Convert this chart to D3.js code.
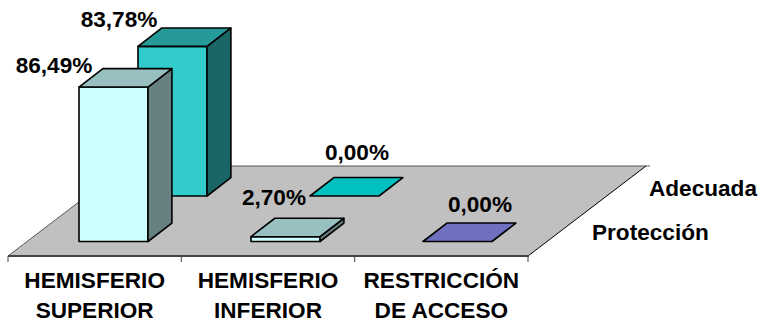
<!DOCTYPE html>
<html><head><meta charset="utf-8">
<script src="https://cdn.jsdelivr.net/npm/d3@7"></script>
<style>html,body{margin:0;padding:0;background:#fff}svg{display:block}text{font-family:"Liberation Sans",Arial,sans-serif;font-weight:bold;fill:#000}</style>
</head><body><svg id="c" width="761" height="322"></svg>
<script>
const categories = [["HEMISFERIO","SUPERIOR"],["HEMISFERIO","INFERIOR"],["RESTRICCIÓN","DE ACCESO"]];
const catKeys = ["sup","inf","res"];
const seriesNames = ["Protección","Adecuada"];
const proteccion = [86.49, 2.70, 0.00];
const adecuada = [83.78, 0.00, null];
const labelsProteccion = ["86,49%","2,70%","0,00%"];
const labelsAdecuada = ["83,78%","0,00%",null];
const faceProteccion = ["#ccffff","#ccffff","#7070c0"];
const topProteccion = ["#99c0c0","#99c0c0","#7070c0"];
const sideProteccion = ["#668080","#668080","#555590"];
const faceAdecuada = ["#33cccc","#33cccc",null];
const topAdecuada = ["#269999","#00c0c0",null];
const sideAdecuada = ["#1a6666","#1a6666",null];

const svg = d3.select("#c");
const axisX = d3.scaleBand().domain(catKeys).range([8,528]);
const barX = d3.scaleBand().domain(catKeys).range([79,595]);
const barW = 69;
const y = d3.scaleLinear().domain([0,100]).range([0,178.6]);
const depthX = d3.scaleLinear().domain([0,1]).range([0,59]);
const depthY = d3.scaleLinear().domain([0,1]).range([241.5,196]);
const dBar = 0.405;  // bar depth as a share of one series row

// floor
const floorDepth = d3.scaleLinear().domain([0,1]).range([0,118]);
const yFloor = d3.scaleLinear().domain([0,1]).range([256,166]);
const floorPath = d3.line()([[8,yFloor(0)],[528,yFloor(0)],[528+floorDepth(1),yFloor(1)],[8+floorDepth(1),yFloor(1)]])+"Z";
svg.append("path").attr("d",floorPath).attr("fill","#c0c0c0");
svg.append("line").attr("x1",8+floorDepth(1)).attr("x2",650).attr("y1",yFloor(1)).attr("y2",yFloor(1)).attr("stroke","#555").attr("stroke-width",1);
svg.append("line").attr("x1",528).attr("x2",528+floorDepth(1)).attr("y1",yFloor(0)).attr("y2",yFloor(1)).attr("stroke","#000").attr("stroke-width",1);
svg.append("line").attr("x1",8).attr("x2",8+floorDepth(1)).attr("y1",yFloor(0)).attr("y2",yFloor(1)).attr("stroke","#333").attr("stroke-width",.8);

// x axis
svg.append("line").attr("x1",8).attr("x2",529).attr("y1",256).attr("y2",256).attr("stroke","#444").attr("stroke-width",2);
const tickXs = catKeys.map(k=>axisX(k)).concat([axisX.range()[1]]);
svg.selectAll(".t").data(tickXs).join("line").attr("x1",d=>d).attr("x2",d=>d).attr("y1",256).attr("y2",262).attr("stroke","#444").attr("stroke-width",1);

function bar(row, k, v, face, top, side){
  const x0 = barX(k)+depthX(row), b = depthY(row), h = y(v);
  const dx = depthX(dBar), dy = depthY(0)-depthY(dBar);
  const g = svg.append("g").attr("stroke","#000").attr("stroke-width",1.6).attr("stroke-linejoin","round");
  const l = d3.line();
  if(h>0){
    g.append("path").attr("d",l([[x0,b],[x0+barW,b],[x0+barW,b-h],[x0,b-h]])+"Z").attr("fill",face);
    g.append("path").attr("d",l([[x0+barW,b],[x0+barW+dx,b-dy],[x0+barW+dx,b-dy-h],[x0+barW,b-h]])+"Z").attr("fill",side);
  }
  g.append("path").attr("d",l([[x0,b-h],[x0+barW,b-h],[x0+barW+dx,b-dy-h],[x0+dx,b-dy-h]])+"Z").attr("fill",top);
}
// back row first
catKeys.forEach((k,i)=>{ if(adecuada[i]!==null) bar(1,k,adecuada[i],faceAdecuada[i],topAdecuada[i],sideAdecuada[i]); });
catKeys.forEach((k,i)=>{ bar(0,k,proteccion[i],faceProteccion[i],topProteccion[i],sideProteccion[i]); });

// value labels
const fs = 22.6;
function vlab(x,yy,t){ svg.append("text").attr("x",x).attr("y",yy).attr("text-anchor","middle").attr("font-size",fs).text(t); }
const lab = (row,i,dxl,dyl,t)=>vlab(barX(catKeys[i])+depthX(row)+dxl, depthY(row)-y(row?adecuada[i]:proteccion[i])+dyl, t);
lab(0,0,-25,-14,labelsProteccion[0]);
lab(1,0,-19,-19,labelsAdecuada[0]);
lab(0,1,23,-32,labelsProteccion[1]);
lab(1,1,47,-36,labelsAdecuada[1]);
lab(0,2,57,-29.5,labelsProteccion[2]);

// category labels
categories.forEach((c,i)=>{
  const cx = axisX(catKeys[i])+axisX.bandwidth()/2;
  c.forEach((t,j)=>svg.append("text").attr("x",cx).attr("y",288+j*30).attr("text-anchor","middle").attr("font-size",fs).text(t));
});
// series labels
svg.append("text").attr("x",649).attr("y",196).attr("font-size",fs).text(seriesNames[1]);
svg.append("text").attr("x",592).attr("y",240).attr("font-size",fs).text(seriesNames[0]);
</script></body></html>
